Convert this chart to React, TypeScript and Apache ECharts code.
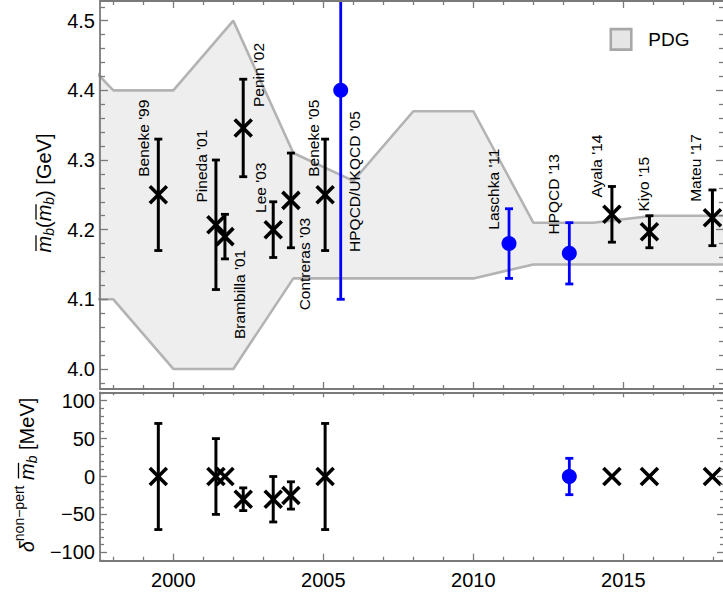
import React, { useEffect, useRef } from "react";
import * as echarts from "echarts";

// ---------- axis ranges ----------
const X_MIN = 1997.556;
const X_MAX = 2018.356;
const M_MIN = 3.9712;
const M_MAX = 4.5283;
const S_MIN = -111.1;
const S_MAX = 111.1;

// ---------- tick values ----------
const yearTicks = [2000, 2005, 2010, 2015];
const yearMinor = [1998, 1999, 2001, 2002, 2003, 2004, 2006, 2007, 2008, 2009, 2011, 2012, 2013, 2014, 2016, 2017, 2018];
const massTicks = [4.0, 4.1, 4.2, 4.3, 4.4, 4.5];
const massMinor = [3.98, 4.02, 4.04, 4.06, 4.08, 4.12, 4.14, 4.16, 4.18, 4.22, 4.24, 4.26, 4.28, 4.32, 4.34, 4.36, 4.38, 4.42, 4.44, 4.46, 4.48, 4.52];
const shiftTicks = [-100, -50, 0, 50, 100];
const shiftMinor = [-110, -90, -80, -70, -60, -40, -30, -20, -10, 10, 20, 30, 40, 60, 70, 80, 90, 110];

// ---------- PDG band ----------
const pdgYears = [1996, 1998, 2000, 2002, 2004, 2006, 2008, 2010, 2012, 2014, 2016, 2018, 2020];
const pdgUpper = [4.49, 4.40, 4.40, 4.50, 4.31, 4.27, 4.37, 4.37, 4.21, 4.21, 4.22, 4.22, 4.22];
const pdgLower = [4.10, 4.10, 4.00, 4.00, 4.13, 4.13, 4.13, 4.13, 4.15, 4.15, 4.15, 4.15, 4.15];

// ---------- determinations (top panel) ----------
const labels = ["Beneke '99", "Pineda '01", "Brambilla '01", "Penin '02", "Lee '03", "Contreras '03", "Beneke '05", "HPQCD/UKQCD '05", "Laschka '11", "HPQCD '13", "Ayala '14", "Kiyo '15", "Mateu '17"];
const years = [1999.5, 2001.42, 2001.72, 2002.33, 2003.33, 2003.92, 2005.06, 2005.58, 2011.19, 2013.2, 2014.62, 2015.87, 2017.97];
const mass = [4.25, 4.207, 4.19, 4.346, 4.20, 4.242, 4.25, 4.40, 4.18, 4.166, 4.222, 4.197, 4.217];
const massErr = [0.08, 0.093, 0.032, 0.07, 0.04, 0.068, 0.08, 0.30, 0.05, 0.044, 0.04, 0.023, 0.04];
const lattice = [false, false, false, false, false, false, false, true, true, true, false, false, false];
// label placement (anchor value on the mass axis, side and pixel offset)
const labelAt = [4.276, 4.239, 4.171, 4.376, 4.224, 4.217, 4.276, 4.168, 4.2, 4.193, 4.246, 4.226, 4.24];
const labelBelow = [false, false, true, false, false, true, false, false, false, false, false, false, false];
const labelDx = [-15, -14, 15, 15, -13, 14, -12, 14, -16, -16, -15, -6, -17];

// ---------- non-perturbative shift (bottom panel) ----------
const npYears = [1999.5, 2001.42, 2001.72, 2002.33, 2003.33, 2003.92, 2005.06, 2013.2, 2014.62, 2015.87, 2017.97];
const npShift = [0, 0, 0, -30, -30, -25, 0, 0, 0, 0, 0];
const npErr = [70, 50, 0, 15, 30, 18, 70, 24, 0, 0, 0];
const npLattice = [false, false, false, false, false, false, false, true, false, false, false];

const FONT = '"Liberation Sans", Arial, Helvetica, sans-serif';
const AXC = "#7a7a7a";
const BLUE = "#0000ff";

function measure(text: string, font: string): number {
  const ctx = document.createElement("canvas").getContext("2d");
  if (!ctx) return text.length * 10;
  ctx.font = font;
  return ctx.measureText(text).width;
}

type Seg = { t: string; size: number; italic?: boolean; dy?: number; over?: boolean };

function titleGroup(segs: Seg[], cx: number, cy: number) {
  let x = 0;
  const items: any[] = [];
  segs.forEach((s) => {
    const font = `${s.italic ? "italic " : ""}${s.size}px ${FONT}`;
    const w = measure(s.t, font);
    items.push({ x, s, font, w });
    x += w;
  });
  const total = x;
  const children: any[] = [];
  items.forEach((it) => {
    children.push({
      type: "text",
      x: it.x - total / 2,
      y: it.s.dy || 0,
      style: {
        text: it.s.t,
        font: it.font,
        fill: "#000",
        align: "left",
        verticalAlign: "middle",
        textAlign: "left",
        textVerticalAlign: "middle",
      },
    });
    if (it.s.over) {
      children.push({
        type: "line",
        shape: { x1: it.x - total / 2 + 1.5, y1: -8, x2: it.x - total / 2 + it.w + 0.5, y2: -8 },
        style: { stroke: "#000", lineWidth: 1.3 },
      });
    }
  });
  return { type: "group", x: cx, y: cy, rotation: Math.PI / 2, children };
}

function xAxisDef(grid: number, pos: string, ticks: number[], len: number, line: boolean, label: boolean) {
  return {
    type: "value",
    gridIndex: grid,
    position: pos,
    min: X_MIN,
    max: X_MAX,
    z: 6,
    axisLine: { show: line, onZero: false, lineStyle: { color: AXC, width: 1.8 } },
    axisTick: { show: true, inside: true, length: len, customValues: ticks, lineStyle: { color: AXC, width: 1.3 } },
    axisLabel: {
      show: label,
      customValues: ticks,
      margin: 9,
      fontSize: 20,
      fontFamily: FONT,
      color: "#000",
      formatter: (v: number) => String(Math.round(v)),
    },
    splitLine: { show: false },
  };
}

function yAxisDef(
  grid: number,
  pos: string,
  min: number,
  max: number,
  ticks: number[],
  len: number,
  line: boolean,
  label: boolean,
  fmt: (v: number) => string
) {
  return {
    type: "value",
    gridIndex: grid,
    position: pos,
    min,
    max,
    z: 6,
    axisLine: { show: line, onZero: false, lineStyle: { color: AXC, width: 1.8 } },
    axisTick: { show: true, inside: true, length: len, customValues: ticks, lineStyle: { color: AXC, width: 1.3 } },
    axisLabel: {
      show: label,
      customValues: ticks,
      margin: 5,
      fontSize: 20,
      fontFamily: FONT,
      color: "#000",
      formatter: fmt,
    },
    splitLine: { show: false },
  };
}

const massFmt = (v: number) => v.toFixed(1);
const shiftFmt = (v: number) => (v < 0 ? "\u2212" + Math.abs(Math.round(v)) : String(Math.round(v)));

function crossMarker(cx: number, cy: number, color: string) {
  const h = 8.5;
  return [
    { type: "line", shape: { x1: cx - h, y1: cy - h, x2: cx + h, y2: cy + h }, style: { stroke: color, lineWidth: 3.6 } },
    { type: "line", shape: { x1: cx - h, y1: cy + h, x2: cx + h, y2: cy - h }, style: { stroke: color, lineWidth: 3.6 } },
  ];
}

function errorBar(cx: number, yTop: number, yBot: number, cs: any, blue: boolean) {
  const color = blue ? BLUE : "#000";
  const lw = blue ? 2.8 : 3;
  const cap = 4;
  const out: any[] = [];
  const t = Math.max(yTop, cs.y);
  const b = Math.min(yBot, cs.y + cs.height);
  out.push({ type: "line", shape: { x1: cx, y1: t, x2: cx, y2: b }, style: { stroke: color, lineWidth: lw } });
  if (yTop >= cs.y) out.push({ type: "line", shape: { x1: cx - cap, y1: yTop, x2: cx + cap, y2: yTop }, style: { stroke: color, lineWidth: 2.8 } });
  if (yBot <= cs.y + cs.height) out.push({ type: "line", shape: { x1: cx - cap, y1: yBot, x2: cx + cap, y2: yBot }, style: { stroke: color, lineWidth: 2.8 } });
  return out;
}

export default function App() {
  const ref = useRef<HTMLDivElement>(null);

  useEffect(() => {
    if (!ref.current) return;
    const chart = echarts.init(ref.current, undefined, { renderer: "svg" });

    const topData = years.map((y, i) => [y, mass[i], massErr[i]]);
    const npData = npYears.map((y, i) => [y, npShift[i], npErr[i]]);

    const renderTop = (params: any, api: any) => {
      const i = params.dataIndex;
      const xv = api.value(0);
      const yv = api.value(1);
      const ev = api.value(2);
      const cs = params.coordSys;
      const c = api.coord([xv, yv]);
      const hi = api.coord([xv, yv + ev]);
      const lo = api.coord([xv, yv - ev]);
      const blue = lattice[i];
      const children: any[] = [...errorBar(c[0], hi[1], lo[1], cs, blue)];
      if (blue) {
        children.push({ type: "circle", shape: { cx: c[0], cy: c[1], r: 7.5 }, style: { fill: BLUE } });
      } else {
        children.push(...crossMarker(c[0], c[1], "#000"));
      }
      const a = api.coord([xv, labelAt[i]]);
      const al = labelBelow[i] ? "right" : "left";
      children.push({
        type: "text",
        x: c[0] + labelDx[i],
        y: a[1],
        rotation: Math.PI / 2,
        style: {
          text: labels[i],
          font: `15.5px ${FONT}`,
          fill: "#000",
          align: al,
          verticalAlign: "middle",
          textAlign: al,
          textVerticalAlign: "middle",
        },
      });
      return { type: "group", children };
    };

    const renderBottom = (params: any, api: any) => {
      const i = params.dataIndex;
      const xv = api.value(0);
      const yv = api.value(1);
      const ev = api.value(2);
      const cs = params.coordSys;
      const c = api.coord([xv, yv]);
      const blue = npLattice[i];
      const children: any[] = [];
      if (ev > 0) {
        const hi = api.coord([xv, yv + ev]);
        const lo = api.coord([xv, yv - ev]);
        children.push(...errorBar(c[0], hi[1], lo[1], cs, blue));
      }
      if (blue) {
        children.push({ type: "circle", shape: { cx: c[0], cy: c[1], r: 7.5 }, style: { fill: BLUE } });
      } else {
        children.push(...crossMarker(c[0], c[1], "#000"));
      }
      return { type: "group", children };
    };

    const grids = [
      { left: 100, top: 1, width: 624, height: 388, outerBoundsMode: "none", containLabel: false },
      { left: 100, top: 392.3, width: 624, height: 168.4, outerBoundsMode: "none", containLabel: false },
    ];

    const option: any = {
      animation: false,
      backgroundColor: "#ffffff",
      grid: grids,
      legend: {
        left: 609.5,
        top: 27.8,
        padding: 0,
        itemWidth: 20.5,
        itemHeight: 20.5,
        selectedMode: false,
        data: [
          {
            name: "PDG",
            icon: "rect",
            itemStyle: { color: "#e6e6e6", borderColor: "#a8a8a8", borderWidth: 2.6 },
          },
        ],
        textStyle: { fontSize: 19, fontFamily: FONT, color: "#000", padding: [0, 0, 0, 12] },
      },
      xAxis: [
        xAxisDef(0, "bottom", yearTicks, 7, true, false),
        xAxisDef(0, "bottom", yearMinor, 4, false, false),
        xAxisDef(0, "top", yearTicks, 7, true, false),
        xAxisDef(0, "top", yearMinor, 4, false, false),
        xAxisDef(1, "bottom", yearTicks, 7, true, true),
        xAxisDef(1, "bottom", yearMinor, 4, false, false),
        xAxisDef(1, "top", yearTicks, 5, true, false),
        xAxisDef(1, "top", yearMinor, 3, false, false),
      ],
      yAxis: [
        yAxisDef(0, "left", M_MIN, M_MAX, massTicks, 8, true, true, massFmt),
        yAxisDef(0, "left", M_MIN, M_MAX, massMinor, 5, false, false, massFmt),
        yAxisDef(0, "right", M_MIN, M_MAX, massTicks, 8, true, false, massFmt),
        yAxisDef(0, "right", M_MIN, M_MAX, massMinor, 5, false, false, massFmt),
        yAxisDef(1, "left", S_MIN, S_MAX, shiftTicks, 7, true, true, shiftFmt),
        yAxisDef(1, "left", S_MIN, S_MAX, shiftMinor, 4, false, false, shiftFmt),
        yAxisDef(1, "right", S_MIN, S_MAX, shiftTicks, 7, true, false, shiftFmt),
        yAxisDef(1, "right", S_MIN, S_MAX, shiftMinor, 4, false, false, shiftFmt),
      ],
      series: [
        {
          name: "PDG",
          type: "line",
          xAxisIndex: 0,
          yAxisIndex: 0,
          data: pdgYears.map((y, i) => [y, pdgUpper[i]]),
          showSymbol: false,
          symbol: "none",
          silent: true,
          z: 1,
          lineStyle: { color: "#b3b3b3", width: 2.6 },
          itemStyle: { color: "#e6e6e6" },
          areaStyle: { color: "#eeeeee", opacity: 1, origin: "start" },
        },
        {
          name: "PDG lower",
          type: "line",
          xAxisIndex: 0,
          yAxisIndex: 0,
          data: pdgYears.map((y, i) => [y, pdgLower[i]]),
          showSymbol: false,
          symbol: "none",
          silent: true,
          z: 1,
          lineStyle: { color: "#b3b3b3", width: 2.6 },
          areaStyle: { color: "#ffffff", opacity: 1, origin: "start" },
        },
        {
          name: "mb",
          type: "custom",
          xAxisIndex: 0,
          yAxisIndex: 0,
          z: 3,
          silent: true,
          data: topData,
          encode: { x: 0, y: 1 },
          renderItem: renderTop,
        },
        {
          name: "nonpert",
          type: "custom",
          xAxisIndex: 4,
          yAxisIndex: 4,
          z: 3,
          silent: true,
          data: npData,
          encode: { x: 0, y: 1 },
          renderItem: renderBottom,
        },
      ],
      graphic: [
        titleGroup(
          [
            { t: "m", size: 20, italic: true, over: true },
            { t: "b", size: 14, italic: true, dy: 5 },
            { t: "(", size: 20 },
            { t: "m", size: 20, italic: true, over: true },
            { t: "b", size: 14, italic: true, dy: 5 },
            { t: ") [GeV]", size: 20 },
          ],
          44,
          193
        ),
        titleGroup(
          [
            { t: "\u03b4", size: 20, italic: true },
            { t: "non\u2212pert", size: 14, dy: -8 },
            { t: " ", size: 20 },
            { t: "m", size: 20, italic: true, over: true },
            { t: "b", size: 14, italic: true, dy: 5 },
            { t: " [MeV]", size: 20 },
          ],
          26.5,
          475
        ),
      ],
    };

    chart.setOption(option);
    return () => chart.dispose();
  }, []);

  return (
    <div
      ref={ref}
      style={{ position: "absolute", left: 0, top: 0, width: 723, height: 598, background: "#fff" }}
    />
  );
}
